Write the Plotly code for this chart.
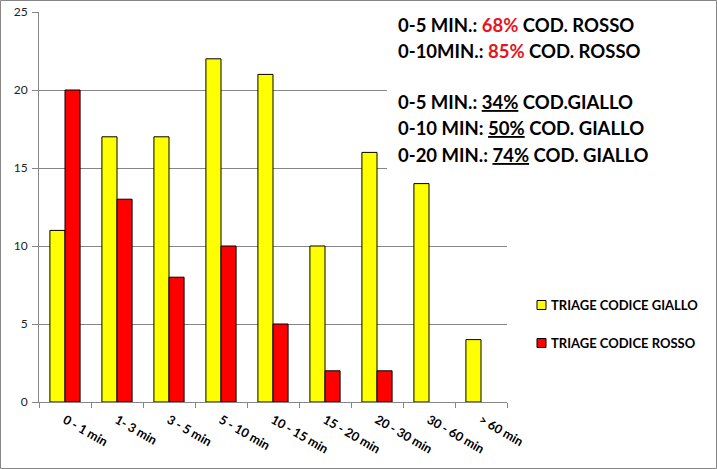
import plotly.graph_objects as go

categories = ["0 - 1 min", "1- 3 min", "3 - 5 min", "5 - 10 min", "10 - 15 min",
              "15 - 20 min", "20 - 30 min", "30 - 60 min", "> 60 min"]
giallo = [11, 17, 17, 22, 21, 10, 16, 14, 4]
rosso = [20, 13, 8, 10, 5, 2, 2, None, None]
series_names = ["TRIAGE CODICE GIALLO", "TRIAGE CODICE ROSSO"]
series_colors = ["#FFFF00", "#FF0000"]

W, H = 717, 469
L, R, T, B = 39, 507, 12, 402


def px(x):
    return (x - L) / (R - L)


def py(y):
    return (B - y) / (B - T)


fig = go.Figure()
for name, vals, col in zip(series_names, [giallo, rosso], series_colors):
    fig.add_trace(go.Bar(x=categories, y=vals, name=name,
                         marker=dict(color=col, line=dict(color="black", width=1))))

axis_col = "#868686"
fig.update_layout(
    width=W, height=H,
    margin=dict(l=L, r=W - R, t=T, b=H - B, autoexpand=False),
    paper_bgcolor="white", plot_bgcolor="white",
    barmode="group", bargap=0.42, bargroupgap=0,
    showlegend=False,
    font=dict(family="Lato", color="black"),
    xaxis=dict(showline=True, linecolor=axis_col, ticks="outside", ticklen=5,
               tickcolor=axis_col, tickson="boundaries", tickangle=30,
               automargin=False, ticklabelstandoff=5,
               tickfont=dict(size=12.5, color="black", weight="bold"), showgrid=False),
    yaxis=dict(range=[0, 25], dtick=5, showline=True, linecolor=axis_col,
               ticks="outside", ticklen=6, tickcolor=axis_col, showgrid=True,
               gridcolor=axis_col, zeroline=False, automargin=False,
               ticklabelstandoff=2,
               tickfont=dict(size=12, color="#222")),
)

# white panel behind text block
fig.add_shape(type="rect", xref="paper", yref="paper", layer="above",
              x0=px(387), x1=px(712), y0=py(175), y1=py(4),
              fillcolor="white", line=dict(width=0))

lines = [
    ("0-5 MIN.: <span style='color:#E8141C'>68%</span> COD. ROSSO", 25),
    ("0-10MIN.: <span style='color:#E8141C'>85%</span> COD. ROSSO", 51),
    ("0-5 MIN.: <u>34%</u> COD.GIALLO", 102),
    ("0-10 MIN: <u>50%</u> COD. GIALLO", 128),
    ("0-20 MIN.: <u>74%</u> COD. GIALLO", 155),
]
for txt, yy in lines:
    fig.add_annotation(text="<b>" + txt + "</b>", xref="paper", yref="paper",
                       x=px(396), y=py(yy), xanchor="left", yanchor="middle",
                       showarrow=False, font=dict(size=18.5, family="Lato", color="black"))

# legend
for i, (name, col) in enumerate(zip(series_names, series_colors)):
    yy = 305 + i * 38
    fig.add_shape(type="rect", xref="paper", yref="paper",
                  x0=px(537), x1=px(546), y0=py(yy + 4.5), y1=py(yy - 4.5),
                  fillcolor=col, line=dict(color="black", width=1))
    fig.add_annotation(text="<b>" + name + "</b>", xref="paper", yref="paper",
                       x=px(549), y=py(yy), xanchor="left", yanchor="middle",
                       showarrow=False, font=dict(size=13, family="Lato", color="black"))

# outer border
fig.add_shape(type="rect", xref="paper", yref="paper", layer="above",
              x0=px(0.5), x1=px(W - 0.5), y0=py(H - 0.5), y1=py(0.5),
              fillcolor="rgba(0,0,0,0)", line=dict(color=axis_col, width=1))

fig.write_html("out.html", config={"displayModeBar": False},
               post_script="document.body.style.margin='0';document.body.style.overflow='hidden';")
